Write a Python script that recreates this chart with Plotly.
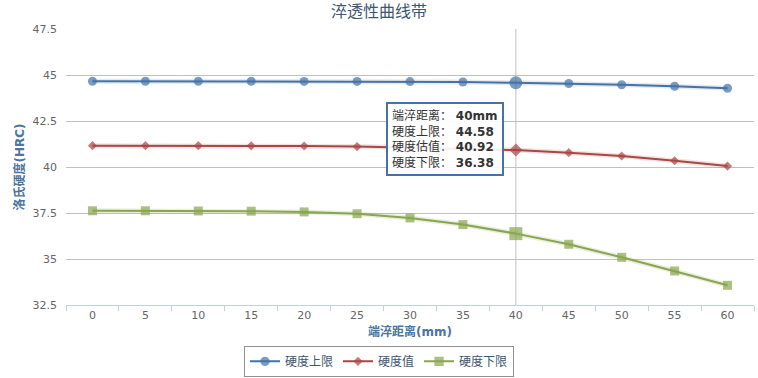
import plotly.graph_objects as go

categories = ["0", "5", "10", "15", "20", "25", "30", "35", "40", "45", "50", "55", "60"]
upper = [44.66, 44.66, 44.66, 44.66, 44.65, 44.65, 44.64, 44.62, 44.58, 44.54, 44.47, 44.39, 44.28]
mid = [41.16, 41.16, 41.16, 41.15, 41.14, 41.11, 41.06, 41.00, 40.92, 40.78, 40.60, 40.34, 40.05]
lower = [37.62, 37.62, 37.61, 37.60, 37.56, 37.46, 37.23, 36.87, 36.38, 35.80, 35.09, 34.35, 33.57]
ytick_vals = [32.5, 35, 37.5, 40, 42.5, 45, 47.5]
ytick_text = ["32.5", "35", "37.5", "40", "42.5", "45", "47.5"]
hover_cat = "40"

names = ["硬度上限", "硬度值", "硬度下限"]
colors = ["#4572A7", "#AA4643", "#89A54E"]
shadows = ["rgba(69,114,167,0.15)", "rgba(170,70,67,0.15)", "rgba(137,165,78,0.18)"]
symbols = ["circle", "diamond", "square"]
base_sizes = [9, 7, 9]
hi_sizes = [13, 10, 13]

FONT = "DejaVu Sans, Noto Sans CJK SC, sans-serif"
hi = categories.index(hover_cat)

fig = go.Figure()
for vals, sc in zip([upper, mid, lower], shadows):
    fig.add_trace(go.Scatter(x=categories, y=vals, mode="lines",
                             line=dict(color=sc, width=5), showlegend=False, hoverinfo="skip"))
for vals, name, c, s, bs, hs in zip([upper, mid, lower], names, colors, symbols, base_sizes, hi_sizes):
    sizes = [hs if i == hi else bs for i in range(len(categories))]
    fig.add_trace(go.Scatter(x=categories, y=vals, mode="lines+markers", name=name,
                             line=dict(color=c, width=2),
                             marker=dict(symbol=s, size=sizes, color=c, line=dict(width=0))))

# crosshair
fig.add_shape(type="line", xref="x", yref="paper", x0=hi, x1=hi, y0=0, y1=1,
              line=dict(color="#C0C0C0", width=1), layer="below")

tip = ("端淬距离： <b>%smm</b><br>硬度上限： <b>%.2f</b><br>硬度估值： <b>%.2f</b><br>硬度下限： <b>%.2f</b>"
       % (hover_cat, upper[hi], mid[hi], lower[hi]))
fig.add_annotation(x=hi, y=0.735, xref="x", yref="paper", xanchor="right", yanchor="top",
                   xshift=-12, text=tip, showarrow=False, align="left",
                   font=dict(family=FONT, size=12, color="#333333"),
                   bgcolor="rgba(255,255,255,0.9)", bordercolor="#4572A7", borderwidth=2, borderpad=4)

fig.update_layout(
    width=758, height=378,
    margin=dict(l=66, r=4, t=29, b=73),
    paper_bgcolor="white", plot_bgcolor="white",
    font=dict(family=FONT, size=11, color="#666666"),
    title=dict(text="淬透性曲线带", x=0.5, xref="container", xanchor="center",
               y=0.985, yref="container", yanchor="top",
               font=dict(family=FONT, size=16, color="#3E576F")),
    showlegend=True,
    legend=dict(orientation="h", xref="container", x=0.5, xanchor="center",
                yref="container", y=0.044, yanchor="middle",
                bordercolor="#909090", borderwidth=1, bgcolor="white",
                font=dict(family=FONT, size=12, color="#3E576F"),
                traceorder="normal", itemwidth=30),
    xaxis=dict(type="category", tickson="boundaries", ticks="outside", ticklen=5,
               tickcolor="#C0D0E0", showline=True, linecolor="#C0D0E0", linewidth=1,
               showgrid=False, zeroline=False, range=[-0.5, len(categories) - 0.5],
               automargin=False,
               tickfont=dict(size=11, color="#666666"),
               title=dict(text="<b>端淬距离(mm)</b>", standoff=6,
                          font=dict(family=FONT, size=12, color="#4D759E"))),
    yaxis=dict(range=[32.5, 47.5], tickvals=ytick_vals, ticktext=ytick_text,
               showgrid=True, gridcolor="#C0C0C0", gridwidth=1, zeroline=False,
               showline=False, ticks="", ticklabelstandoff=8, automargin=False,
               tickfont=dict(size=11, color="#666666"),
               title=dict(text="<b>洛氏硬度(HRC)</b>", standoff=5,
                          font=dict(family=FONT, size=12, color="#4D759E"))),
)

fig.write_html("out.html", config={"displayModeBar": False},
               post_script="document.body.style.margin='0px';")
